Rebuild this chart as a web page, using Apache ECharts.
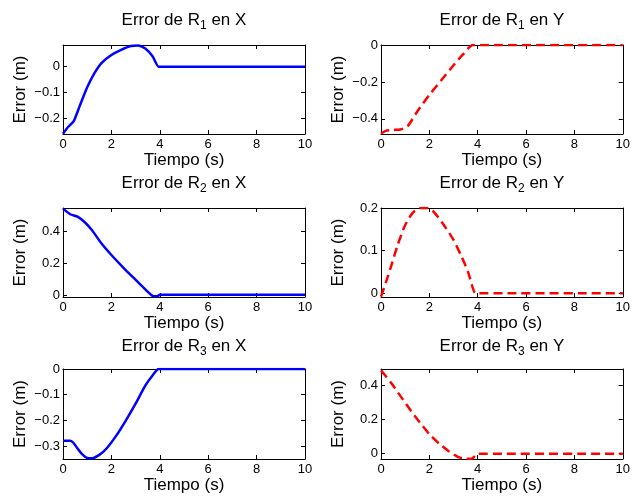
<!DOCTYPE html>
<html>
<head>
<meta charset="utf-8">
<script src="https://cdn.jsdelivr.net/npm/echarts@6/dist/echarts.min.js"></script>
<style>
  html, body { margin: 0; padding: 0; background: #fff; }
  #chart { width: 633px; height: 497px; }
</style>
</head>
<body>
<div id="chart"></div>
<script>
// tiempo (s) y error (m) de cada robot
const r1xT = [0, 0.2, 0.45, 0.7, 1.0, 1.3, 1.6, 2.0, 2.4, 2.8, 3.1, 3.4, 3.7, 3.95, 4, 10];
const r1xV = [-0.26, -0.235, -0.21, -0.15, -0.08, -0.025, 0.015, 0.045, 0.065, 0.08, 0.082, 0.07, 0.04, 0, 0, 0];

const r1yT = [0, 0.2, 0.5, 0.8, 1.1, 1.5, 2.0, 2.5, 3.0, 3.4, 3.8, 10];
const r1yV = [-0.48, -0.465, -0.46, -0.458, -0.44, -0.36, -0.27, -0.19, -0.11, -0.05, 0, 0];

const r2xT = [0, 0.3, 0.6, 0.9, 1.2, 1.6, 2.0, 2.5, 3.0, 3.4, 3.7, 3.9, 4.0, 10];
const r2xV = [0.54, 0.505, 0.49, 0.455, 0.405, 0.32, 0.25, 0.17, 0.095, 0.035, -0.005, -0.008, 0.002, 0.002];

const r2yT = [0, 0.2, 0.4, 0.7, 1.0, 1.3, 1.6, 1.9, 2.2, 2.6, 3.0, 3.3, 3.6, 3.9, 4, 10];
const r2yV = [-0.008, 0.025, 0.06, 0.115, 0.16, 0.188, 0.2, 0.2, 0.19, 0.16, 0.125, 0.09, 0.05, 0, 0, 0];

const r3xT = [0, 0.3, 0.45, 0.6, 0.8, 1.0, 1.2, 1.5, 1.8, 2.2, 2.6, 3.0, 3.4, 3.7, 3.95, 10];
const r3xV = [-0.28, -0.28, -0.29, -0.31, -0.333, -0.347, -0.348, -0.335, -0.31, -0.26, -0.2, -0.135, -0.065, -0.025, 0, 0];

const r3yT = [0, 0.4, 0.8, 1.2, 1.6, 2.0, 2.4, 2.8, 3.2, 3.5, 3.75, 4.0, 10];
const r3yV = [0.49, 0.42, 0.34, 0.26, 0.185, 0.115, 0.06, 0.015, -0.02, -0.03, -0.03, 0, 0];

const xTicks = [0, 2, 4, 6, 8, 10];
const r1xTicks = [-0.2, -0.1, 0];
const r1yTicks = [-0.4, -0.2, 0];
const r2xTicks = [0, 0.2, 0.4];
const r2yTicks = [0, 0.1, 0.2];
const r3xTicks = [-0.3, -0.2, -0.1, 0];
const r3yTicks = [0, 0.2, 0.4];

const panels = [
  { sub: "1", eje: "X", t: r1xT, v: r1xV, ticks: r1xTicks, min: -0.261, max: 0.084, col: 0, row: 0 },
  { sub: "1", eje: "Y", t: r1yT, v: r1yV, ticks: r1yTicks, min: -0.482, max: 0, col: 1, row: 0 },
  { sub: "2", eje: "X", t: r2xT, v: r2xV, ticks: r2xTicks, min: -0.0125, max: 0.544, col: 0, row: 1 },
  { sub: "2", eje: "Y", t: r2yT, v: r2yV, ticks: r2yTicks, min: -0.009, max: 0.2, col: 1, row: 1 },
  { sub: "3", eje: "X", t: r3xT, v: r3xV, ticks: r3xTicks, min: -0.351, max: 0, col: 0, row: 2 },
  { sub: "3", eje: "Y", t: r3yT, v: r3yV, ticks: r3yTicks, min: -0.031, max: 0.498, col: 1, row: 2 }
];

const colLeft = [63, 381];
const rowTop = [45, 208, 369];
const rowHeight = [89, 89, 90];
const titleTop = [9, 172, 335];
const boxW = 242;
const font = "Liberation Sans, Arial, Helvetica, sans-serif";

function fmt(v) {
  const s = String(+Math.abs(v).toFixed(2));
  return v < 0 ? "\u2212" + s : s;
}

const grid = [], xAxis = [], yAxis = [], series = [], title = [];

panels.forEach((p, i) => {
  const left = colLeft[p.col];
  const top = rowTop[p.row];
  const h = rowHeight[p.row];
  grid.push({ left: left, top: top, width: boxW, height: h, containLabel: false });

  title.push({
    text: "{n|Error de R}{s|" + p.sub + "}{n| en " + p.eje + "}",
    left: left + boxW / 2,
    top: titleTop[p.row],
    textAlign: "center",
    padding: 0,
    textStyle: {
      fontWeight: "normal",
      rich: {
        n: { fontFamily: font, fontSize: 17, fontWeight: "normal", color: "#000", lineHeight: 23 },
        s: { fontFamily: font, fontSize: 12, fontWeight: "normal", color: "#000", lineHeight: 6, verticalAlign: "bottom" }
      }
    }
  });

  // eje inferior con etiquetas
  xAxis.push({
    gridIndex: i, type: "value", min: 0, max: 10, interval: 2, position: "bottom",
    name: "Tiempo (s)", nameLocation: "middle", nameGap: 18,
    nameTextStyle: { fontFamily: font, fontSize: 17, color: "#000" },
    axisLine: { show: true, onZero: false, lineStyle: { color: "#000", width: 1 } },
    axisTick: { show: true, inside: true, length: 4, lineStyle: { color: "#000" } },
    axisLabel: { fontFamily: font, fontSize: 13, color: "#000", margin: 4 },
    splitLine: { show: false }
  });
  // eje superior (caja)
  xAxis.push({
    gridIndex: i, type: "value", min: 0, max: 10, interval: 2, position: "top",
    axisLine: { show: true, onZero: false, lineStyle: { color: "#000", width: 1 } },
    axisTick: { show: true, inside: true, length: 4, lineStyle: { color: "#000" } },
    axisLabel: { show: false },
    splitLine: { show: false }
  });
  yAxis.push({
    gridIndex: i, type: "value", min: p.min, max: p.max, position: "left",
    name: "Error (m)", nameLocation: "middle", nameGap: 34,
    nameTextStyle: { fontFamily: font, fontSize: 17, color: "#000" },
    axisLine: { show: true, onZero: false, lineStyle: { color: "#000", width: 1 } },
    axisTick: { show: true, inside: true, length: 4, customValues: p.ticks, lineStyle: { color: "#000" } },
    axisLabel: { fontFamily: font, fontSize: 13, color: "#000", margin: 3, customValues: p.ticks, formatter: fmt },
    splitLine: { show: false }
  });
  yAxis.push({
    gridIndex: i, type: "value", min: p.min, max: p.max, position: "right",
    axisLine: { show: true, onZero: false, lineStyle: { color: "#000", width: 1 } },
    axisTick: { show: true, inside: true, length: 4, customValues: p.ticks, lineStyle: { color: "#000" } },
    axisLabel: { show: false },
    splitLine: { show: false }
  });

  const isY = p.eje === "Y";
  series.push({
    type: "line",
    xAxisIndex: i * 2,
    yAxisIndex: i * 2,
    data: p.t.map((t, k) => [t, p.v[k]]),
    showSymbol: false,
    symbol: "none",
    smooth: 0.2,
    clip: true,
    lineStyle: {
      color: isY ? "#ff0000" : "#0000ff",
      width: 2.5,
      type: isY ? [9, 5] : "solid"
    },
    animation: false
  });
});

const chart = echarts.init(document.getElementById("chart"));
chart.setOption({
  backgroundColor: "#fff",
  animation: false,
  title: title,
  grid: grid,
  xAxis: xAxis,
  yAxis: yAxis,
  series: series
});
</script>
</body>
</html>
